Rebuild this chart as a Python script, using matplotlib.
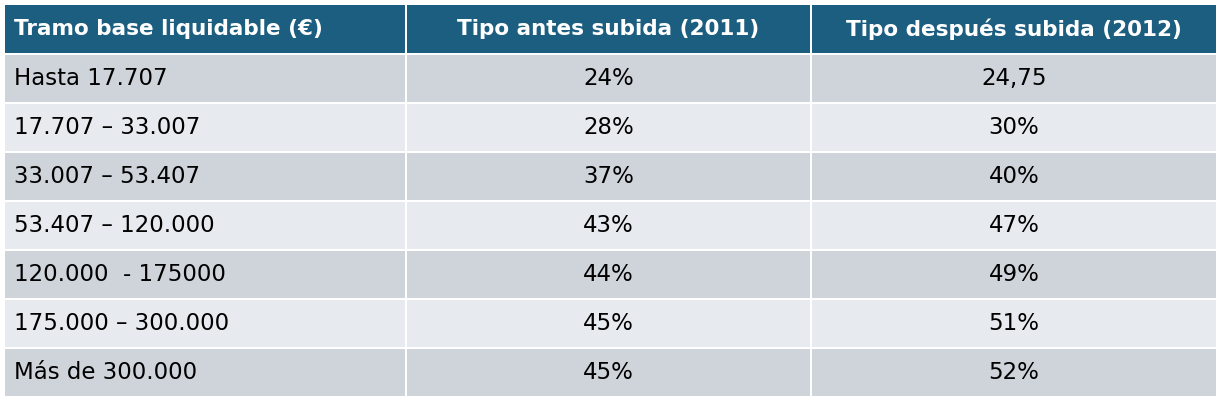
import matplotlib
matplotlib.use("Agg")
import matplotlib.pyplot as plt
from matplotlib.patches import Rectangle

headers = ["Tramo base liquidable (€)", "Tipo antes subida (2011)", "Tipo después subida (2012)"]
tramos = ["Hasta 17.707", "17.707 – 33.007", "33.007 – 53.407", "53.407 – 120.000",
          "120.000  - 175000", "175.000 – 300.000", "Más de 300.000"]
tipo_2011 = ["24%", "28%", "37%", "43%", "44%", "45%", "45%"]
tipo_2012 = ["24,75", "30%", "40%", "47%", "49%", "51%", "52%"]

plt.rcParams['font.family'] = ['DejaVu Sans']
fig = plt.figure(figsize=(12.24, 4.12), dpi=100)
ax = fig.add_axes([0, 0, 1, 1])
ax.set_xlim(0, 1224); ax.set_ylim(412, 0); ax.axis('off')

cols = [5, 407, 812, 1218]
header_top, header_h, row_h, gap = 5, 48, 49, 2
hdr_color = "#1B5E80"
row_colors = ["#CFD4DB", "#E7EAEE"]
hs, bs = 15.5, 16.5

for c in range(3):
    ax.add_patch(Rectangle((cols[c], header_top), cols[c+1]-cols[c]-gap, header_h, color=hdr_color, lw=0))
    if c == 0:
        ax.text(cols[c]+9, header_top+header_h/2, headers[c], color="white", fontsize=hs,
                fontweight="bold", ha="left", va="center")
    else:
        ax.text((cols[c]+cols[c+1]-gap)/2, header_top+header_h/2, headers[c], color="white",
                fontsize=hs, fontweight="bold", ha="center", va="center")

y = header_top + header_h + gap
for i, (a, b, d) in enumerate(zip(tramos, tipo_2011, tipo_2012)):
    col = row_colors[i % 2]
    for c in range(3):
        ax.add_patch(Rectangle((cols[c], y), cols[c+1]-cols[c]-gap, row_h-gap, color=col, lw=0))
    cy = y + (row_h-gap)/2
    ax.text(cols[0]+9, cy, a, fontsize=bs, ha="left", va="center", color="black")
    ax.text((cols[1]+cols[2]-gap)/2, cy, b, fontsize=bs, ha="center", va="center", color="black")
    ax.text((cols[2]+cols[3]-gap)/2, cy, d, fontsize=bs, ha="center", va="center", color="black")
    y += row_h

fig.savefig("out.png", dpi=100, facecolor="white")
